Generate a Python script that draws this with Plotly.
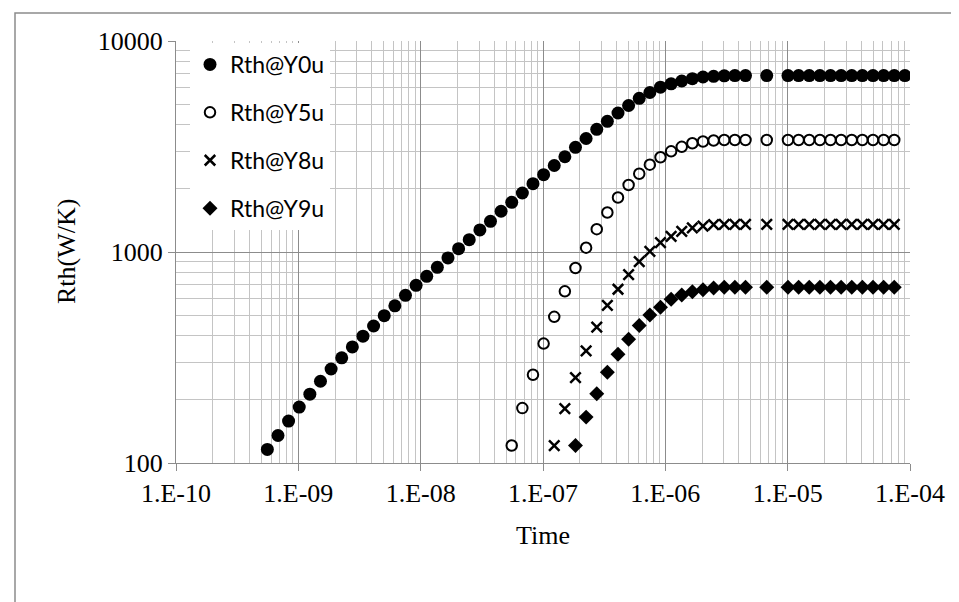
import plotly.graph_objects as go

# Time grid (s) shared by all series (points at index 46 and 48 are absent in the chart)
time_s = [5.58e-10, 6.82e-10, 8.32e-10, 1.017e-9, 1.242e-9, 1.517e-9, 1.853e-9, 2.263e-9,
          2.764e-9, 3.376e-9, 4.123e-9, 5.036e-9, 6.151e-9, 7.513e-9, 9.176e-9, 1.121e-8,
          1.369e-8, 1.672e-8, 2.042e-8, 2.494e-8, 3.047e-8, 3.721e-8, 4.545e-8, 5.551e-8,
          6.780e-8, 8.281e-8, 1.0115e-7, 1.2355e-7, 1.509e-7, 1.843e-7, 2.251e-7, 2.750e-7,
          3.358e-7, 4.102e-7, 5.010e-7, 6.119e-7, 7.474e-7, 9.129e-7, 1.115e-6, 1.362e-6,
          1.663e-6, 2.032e-6, 2.481e-6, 3.031e-6, 3.702e-6, 4.522e-6, 6.745e-6,
          1.006e-5, 1.229e-5, 1.501e-5, 1.834e-5, 2.240e-5, 2.735e-5, 3.341e-5, 4.081e-5,
          4.984e-5, 6.088e-5, 7.435e-5, 9.082e-5]

rth_y0u = [116, 135, 158, 184, 212, 244, 279, 315, 355, 399, 446, 499, 556, 623, 695, 767,
           846, 937, 1037, 1144, 1272, 1398, 1560, 1720, 1904, 2108, 2325, 2570, 2827, 3135,
           3451, 3815, 4164, 4559, 4947, 5351, 5700, 6040, 6269, 6463, 6628, 6752, 6804, 6841,
           6860, 6860, 6860,
           6860, 6860, 6860, 6860, 6860, 6860, 6860, 6860, 6860, 6860, 6860, 6860]

# later series start further along the same time grid
start_y5u = 23
start_y8u = 27
start_y9u = 29

rth_y5u = [121, 182, 262, 368, 493, 651, 840, 1048, 1283, 1539, 1813, 2078, 2348, 2593,
           2811, 3001, 3152, 3275, 3340, 3377, 3395, 3395, 3395,
           3395, 3395, 3395, 3395, 3395, 3395, 3395, 3395, 3395, 3395, 3395, 3395]

rth_y8u = [121, 181, 254, 340, 440, 558, 666, 781, 900, 1008, 1107, 1187, 1254, 1300, 1328,
           1347, 1353, 1353, 1353,
           1353, 1353, 1353, 1353, 1353, 1353, 1353, 1353, 1353, 1353, 1353, 1353]

rth_y9u = [121, 165, 213, 269, 328, 386, 448, 503, 547, 597, 625, 648, 663, 675, 680, 680, 680,
           680, 680, 680, 680, 680, 680, 680, 680, 680, 680, 680, 680]

series_names = ["Rth@Y0u", "Rth@Y5u", "Rth@Y8u", "Rth@Y9u"]

x_tickvals = [1e-10, 1e-9, 1e-8, 1e-7, 1e-6, 1e-5, 1e-4]
x_ticktext = ["1.E-10", "1.E-09", "1.E-08", "1.E-07", "1.E-06", "1.E-05", "1.E-04"]
y_tickvals = [100, 1000, 10000]
y_ticktext = ["100", "1000", "10000"]

x_minor = [m * 10.0 ** e for e in range(-10, -4) for m in range(2, 10)]
y_minor = [m * 10.0 ** e for e in range(2, 4) for m in range(2, 10)]

MAJOR = "#8c8c8c"
MINOR = "#c4c4c4"
SERIF = "Liberation Serif, Times New Roman, serif"
SANS = "Lato, Carlito, Calibri, sans-serif"

fig = go.Figure()
fig.add_trace(go.Scatter(x=time_s, y=rth_y0u, mode="markers", name=series_names[0],
                         legendgroup="a",
                         marker=dict(symbol="circle", size=13, color="black")))
fig.add_trace(go.Scatter(x=time_s[start_y5u:], y=rth_y5u, mode="markers", name=series_names[1],
                         legendgroup="b",
                         marker=dict(symbol="circle-open", size=10.5, color="black",
                                     line=dict(width=2, color="black"))))
fig.add_trace(go.Scatter(x=time_s[start_y8u:], y=rth_y8u, mode="markers", name=series_names[2],
                         legendgroup="c",
                         marker=dict(symbol="x-thin-open", size=10.5, color="black",
                                     line=dict(width=2.5, color="black"))))
fig.add_trace(go.Scatter(x=time_s[start_y9u:], y=rth_y9u, mode="markers", name=series_names[3],
                         legendgroup="d",
                         marker=dict(symbol="diamond", size=11.5, color="black")))

L, R, T, B = 168, 57, 33, 147
W, H = 959, 602
pw, ph = W - L - R, H - T - B

def px_x(p):
    return (p - L) / pw

def px_y(p):
    return (H - B - p) / ph

fig.update_layout(
    width=W, height=H,
    margin=dict(l=L, r=R, t=T, b=B, pad=0),
    paper_bgcolor="white", plot_bgcolor="white",
    showlegend=True,
    legend=dict(x=px_x(182), y=px_y(35), xanchor="left", yanchor="top",
                bgcolor="white", borderwidth=0,
                font=dict(family=SANS, size=23, color="black"),
                traceorder="grouped", tracegroupgap=15,
                itemsizing="trace"),
    xaxis=dict(type="log", range=[-10, -4], tickmode="array",
               tickvals=x_tickvals, ticktext=x_ticktext,
               tickfont=dict(family=SERIF, size=26, color="black"),
               ticks="outside", ticklen=7, tickcolor=MAJOR, tickwidth=1,
               showgrid=True, gridcolor=MAJOR, gridwidth=1,
               showline=True, linecolor=MAJOR, linewidth=1, mirror=False,
               zeroline=False,
               minor=dict(tickmode="array", tickvals=x_minor, showgrid=True,
                          gridcolor=MINOR, gridwidth=1, ticks="")),
    yaxis=dict(type="log", range=[2, 4], tickmode="array",
               tickvals=y_tickvals, ticktext=y_ticktext,
               tickfont=dict(family=SERIF, size=26, color="black"),
               ticks="outside", ticklen=7, tickcolor=MAJOR, tickwidth=1,
               showgrid=True, gridcolor=MAJOR, gridwidth=1,
               showline=True, linecolor=MAJOR, linewidth=1,
               zeroline=False,
               minor=dict(tickmode="array", tickvals=y_minor, showgrid=True,
                          gridcolor=MINOR, gridwidth=1, ticks="")),
    annotations=[
        dict(text="Time", xref="paper", yref="paper", x=0.5, y=px_y(527),
             xanchor="center", yanchor="middle", showarrow=False,
             font=dict(family=SERIF, size=26, color="black")),
        dict(text="Rth(W/K)", xref="paper", yref="paper", x=px_x(58), y=0.5,
             xanchor="center", yanchor="middle", showarrow=False, textangle=-90,
             font=dict(family=SERIF, size=26, color="black")),
    ],
    shapes=[
        dict(type="rect", xref="paper", yref="paper",
             x0=px_x(7), x1=px_x(975), y0=px_y(620), y1=px_y(5),
             line=dict(color="#8c8c8c", width=1.5), fillcolor="rgba(0,0,0,0)", layer="below"),
    ],
)

fig.write_html("out.html")
